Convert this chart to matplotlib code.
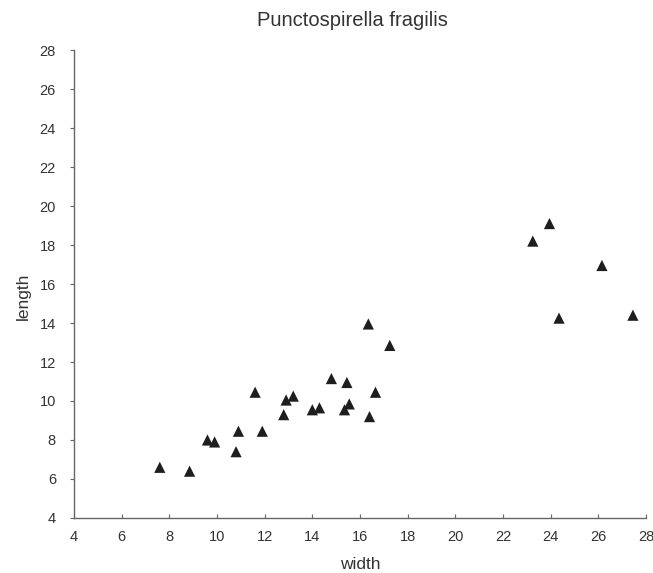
import matplotlib
matplotlib.use('Agg')
import matplotlib.pyplot as plt

plt.rcParams['font.family'] = ['Liberation Sans', 'DejaVu Sans']

# shell measurements
width = [7.6, 8.85, 9.6, 9.9, 10.8, 10.9, 11.6, 11.9, 12.8, 12.9, 13.2,
         14.0, 14.3, 14.8, 15.45, 15.35, 15.55, 16.35, 16.4, 16.65, 17.25,
         23.25, 23.95, 26.15, 24.35, 27.45]
length = [6.6, 6.4, 8.0, 7.9, 7.4, 8.45, 10.45, 8.45, 9.3, 10.05, 10.25,
          9.55, 9.65, 11.15, 10.95, 9.55, 9.85, 13.95, 9.2, 10.45, 12.85,
          18.2, 19.1, 16.95, 14.25, 14.4]
ticks = list(range(4, 29, 2))

fig = plt.figure(figsize=(6.53, 5.73), dpi=100)
ax = fig.add_axes([0.1133, 0.096, 0.876, 0.8167])

ax.scatter(width, length, marker='^', s=65, color='#1e1e1e', edgecolors='none', zorder=3)

ax.set_xlim(4, 28)
ax.set_ylim(4, 28)
ax.set_xticks(ticks)
ax.set_yticks(ticks)
for side in ['top', 'right']:
    ax.spines[side].set_visible(False)
for side in ['left', 'bottom']:
    ax.spines[side].set_color('#666666')
    ax.spines[side].set_linewidth(1.0)
ax.tick_params(axis='x', direction='in', length=3, width=0.8, color='#666666',
               labelsize=10.5, labelcolor='#333333', pad=9)
ax.tick_params(axis='y', direction='out', length=3, width=0.8, color='#666666',
               labelsize=10.5, labelcolor='#333333', pad=10)

ax.set_xlabel('width', fontsize=12.5, color='#333333', va='center')
ax.xaxis.set_label_coords(0.5, -0.1)
ax.set_ylabel('length', fontsize=12.5, color='#333333', va='center')
ax.yaxis.set_label_coords(-0.089, 0.474)

fig.text(0.539, 0.965, 'Punctospirella fragilis', fontsize=14.5, color='#333333',
         ha='center', va='center')

fig.savefig('out.png', dpi=100, facecolor='white')
